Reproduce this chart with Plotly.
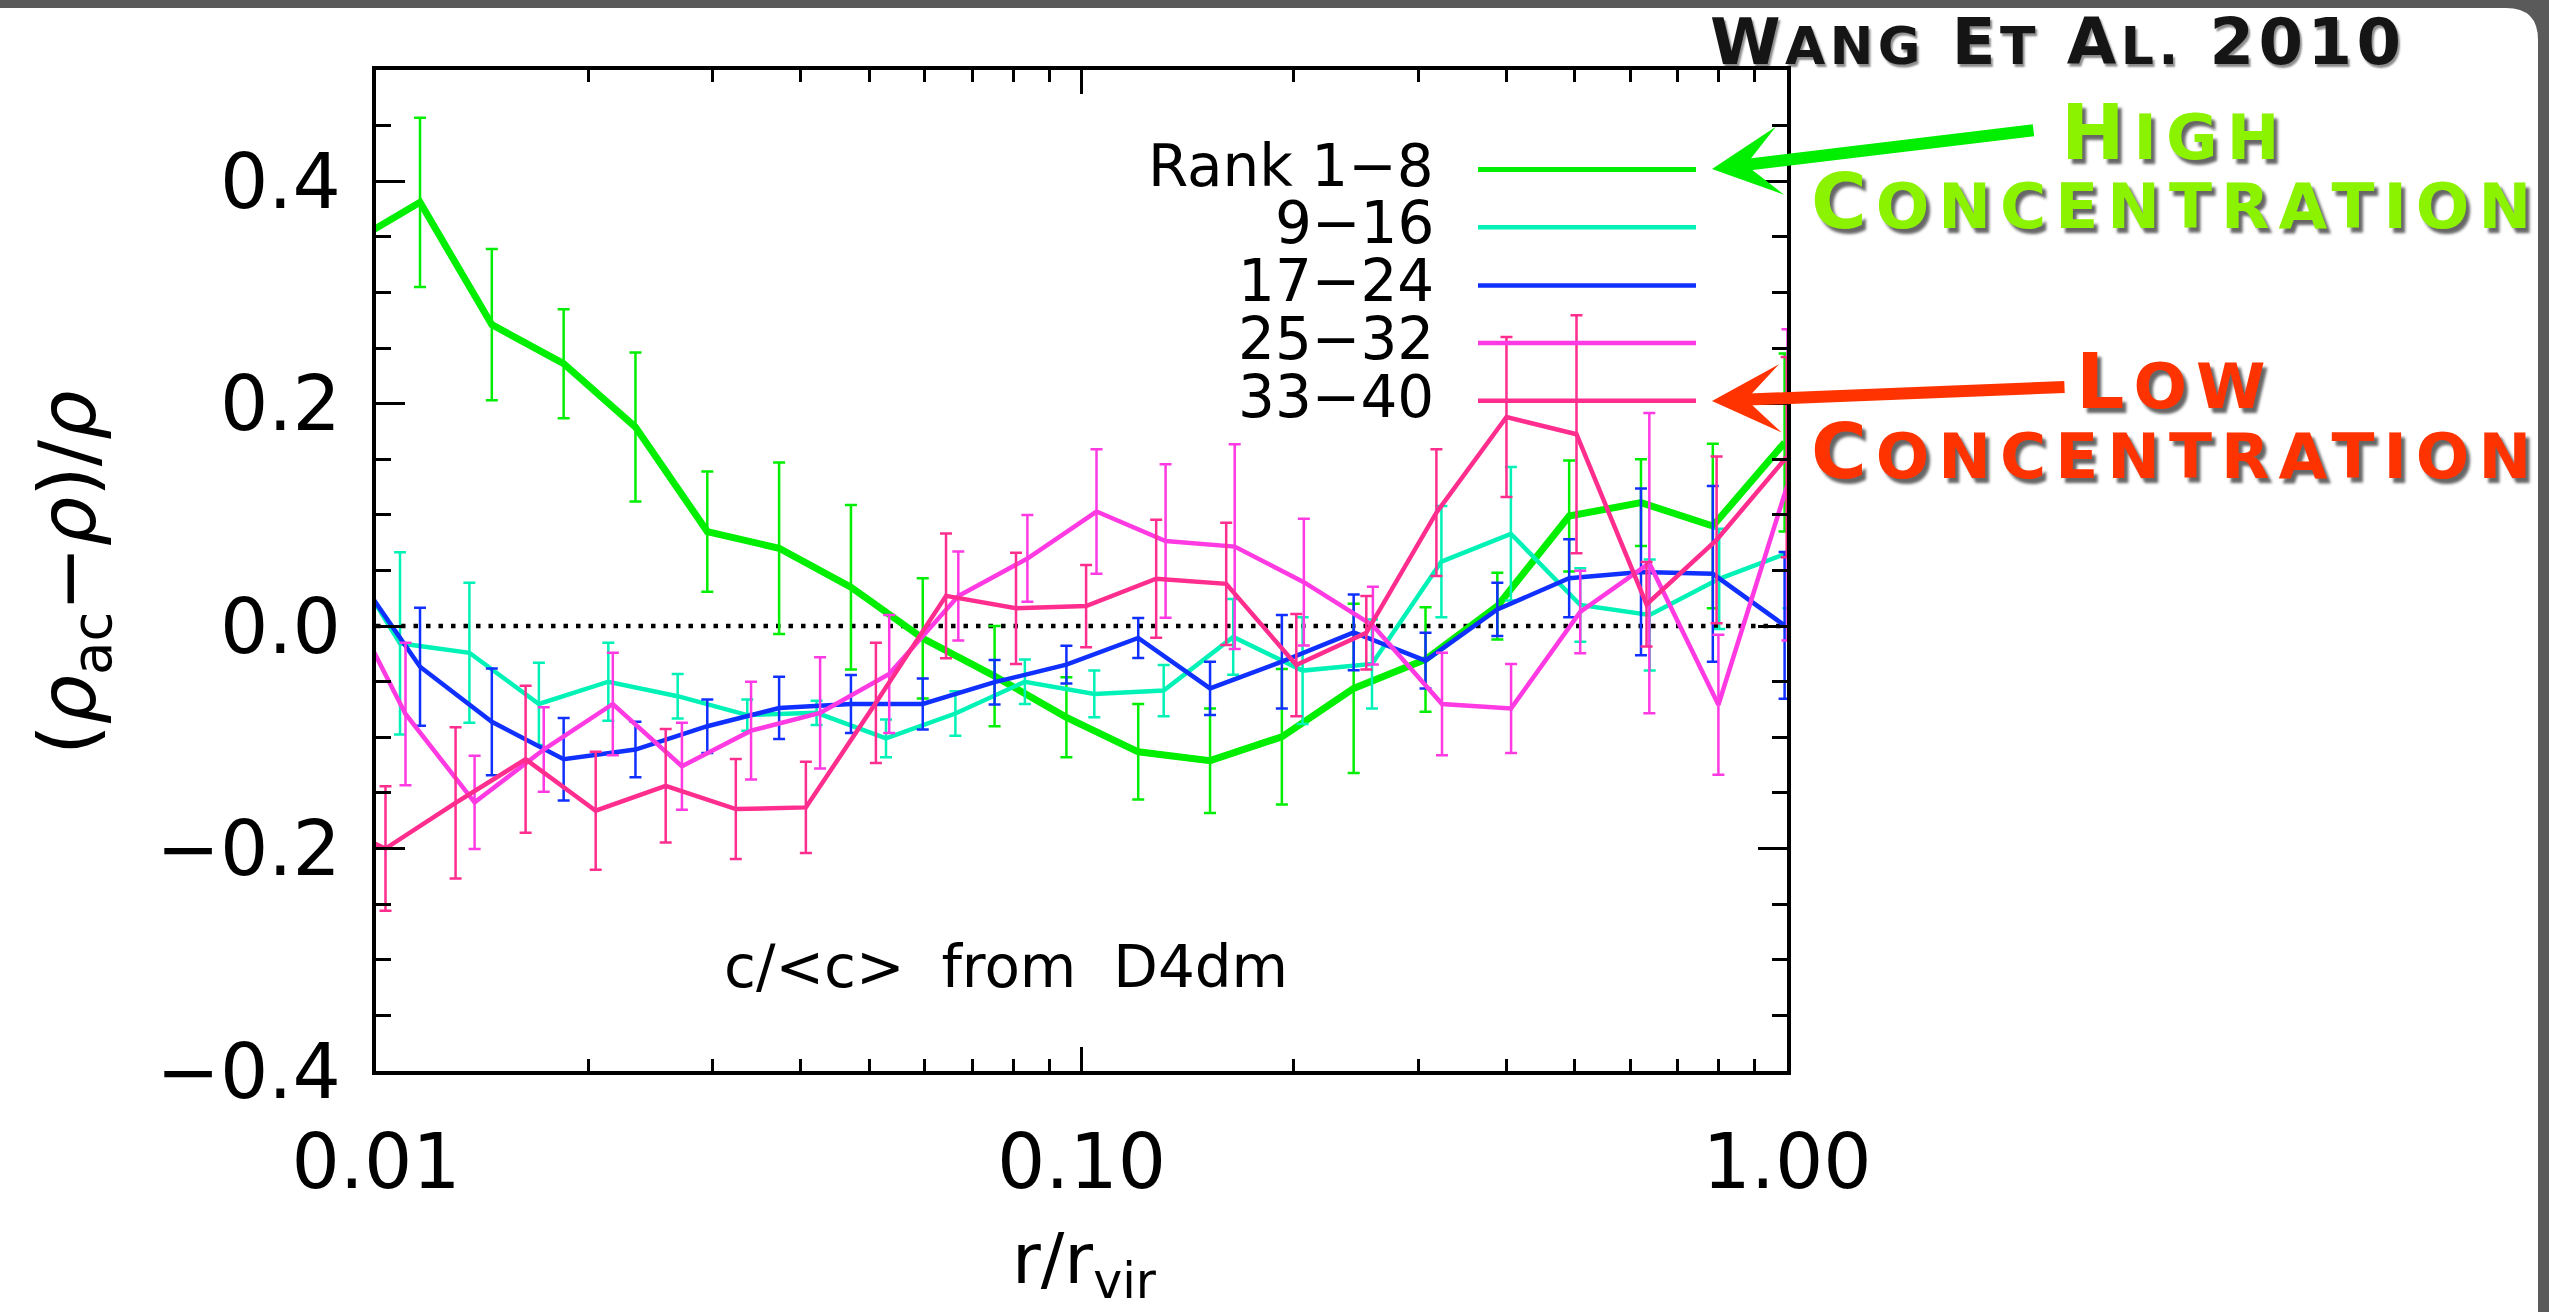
import plotly.graph_objects as go

# ---------------- data ----------------
r_rank1_8 = [0.009134, 0.011545, 0.014594, 0.018450, 0.023323, 0.029484, 0.037273,
             0.047119, 0.059566, 0.075302, 0.095194, 0.12034, 0.15213, 0.19231,
             0.24311, 0.30734, 0.38853, 0.49117, 0.62090, 0.78496, 0.99220]
dev_rank1_8 = [0.343, 0.381, 0.271, 0.236, 0.179, 0.085, 0.070, 0.035, -0.011, -0.045,
               -0.082, -0.113, -0.121, -0.0995, -0.056, -0.030, 0.018, 0.099, 0.111, 0.090, 0.165]
err_rank1_8 = [0, 0.076, 0.068, 0.049, 0.067, 0.054, 0.077, 0.074, 0.054, 0.045, 0.036,
               0.043, 0.047, 0.061, 0.076, 0.047, 0.030, 0.050, 0.039, 0.074, 0.080]

r_rank9_16 = [0.008620, 0.010815, 0.013564, 0.017017, 0.021345, 0.026768, 0.033592,
              0.042123, 0.052833, 0.066262, 0.083128, 0.10427, 0.13077, 0.16407,
              0.20578, 0.25808, 0.32369, 0.40608, 0.50935, 0.63888, 0.80146, 1.0052]
dev_rank9_16 = [0.086, -0.0155, -0.024, -0.070, -0.050, -0.063, -0.080, -0.078, -0.101,
                -0.0786, -0.050, -0.061, -0.058, -0.0097, -0.040, -0.034, 0.058, 0.083,
                0.019, 0.010, 0.0425, 0.066]
err_rank9_16 = [0, 0.082, 0.063, 0.037, 0.035, 0.020, 0.014, 0.011, 0.017, 0.020, 0.020,
                0.021, 0.023, 0.034, 0.048, 0.040, 0.050, 0.060, 0.033, 0.050, 0.045, 0.050]

r_rank17_24 = [0.009134, 0.011545, 0.014594, 0.018450, 0.023323, 0.029484, 0.037273,
               0.047119, 0.059566, 0.075302, 0.095194, 0.12034, 0.15213, 0.19231,
               0.24311, 0.30734, 0.38853, 0.49117, 0.62090, 0.78496, 0.99220]
dev_rank17_24 = [0.057, -0.0365, -0.086, -0.1197, -0.111, -0.090, -0.0736, -0.070, -0.070,
                 -0.0504, -0.0347, -0.0107, -0.056, -0.032, -0.0056, -0.031, 0.015, 0.043,
                 0.0487, 0.047, 0.0006]
err_rank17_24 = [0, 0.053, 0.048, 0.037, 0.025, 0.024, 0.028, 0.026, 0.023, 0.020, 0.017,
                 0.018, 0.024, 0.042, 0.034, 0.025, 0.024, 0.035, 0.075, 0.079, 0.066]

r_rank25_32 = [0.008789, 0.011011, 0.013796, 0.017288, 0.021661, 0.027141, 0.034011,
               0.042608, 0.053388, 0.066893, 0.08381, 0.10502, 0.13158, 0.16488,
               0.20661, 0.25884, 0.32433, 0.40635, 0.50920, 0.63806, 0.79942, 1.0016]
dev_rank25_32 = [0.043, -0.079, -0.1585, -0.111, -0.070, -0.126, -0.094, -0.078, -0.043,
                 0.027, 0.0608, 0.103, 0.0765, 0.0715, 0.0395, 0.0005, -0.070, -0.074,
                 0.0127, 0.0566, -0.0707, 0.127]
err_rank25_32 = [0, 0.064, 0.042, 0.038, 0.046, 0.039, 0.044, 0.050, 0.053, 0.040, 0.039,
                 0.056, 0.069, 0.092, 0.057, 0.035, 0.046, 0.040, 0.037, 0.135, 0.063, 0.140]

r_rank33_40 = [0.008207, 0.010315, 0.012966, 0.016296, 0.020484, 0.025741, 0.032359,
               0.040674, 0.051119, 0.064266, 0.080753, 0.10151, 0.12760, 0.16036,
               0.20159, 0.25333, 0.31845, 0.40030, 0.50307, 0.63227, 0.79471, 0.99901]
dev_rank33_40 = [-0.172, -0.200, -0.159, -0.1197, -0.166, -0.1436, -0.1645, -0.163, -0.069,
                 0.0272, 0.016, 0.018, 0.0426, 0.038, -0.035, -0.006, 0.102, 0.188, 0.1725,
                 0.0196, 0.0775, 0.152]
err_rank33_40 = [0, 0.056, 0.068, 0.066, 0.053, 0.051, 0.045, 0.041, 0.054, 0.056, 0.050,
                 0.037, 0.053, 0.055, 0.046, 0.033, 0.057, 0.072, 0.107, 0.038, 0.075, 0.090]

series_labels = ["Rank 1\u22128", "9\u221216", "17\u221224", "25\u221232", "33\u221240"]

x_tick_vals = [0.01, 0.1, 1.0]
x_tick_text = ["0.01", "0.10", "1.00"]
y_tick_vals = [-0.4, -0.2, 0.0, 0.2, 0.4]
y_tick_text = ["\u22120.4", "\u22120.2", "0.0", "0.2", "0.4"]

# ---------------- geometry / style ----------------
W, H = 2549, 1312
ML, MR, MT, MB = 376, 762, 70, 241
PW = W - ML - MR
PH = H - MT - MB


def px(x):
    return (x - ML) / PW


def py(y):
    return (H - MB - y) / PH


FONT = "DejaVu Sans"
colors = ["#00EE00", "#00F2B6", "#1030FF", "#FF3AE2", "#FF2D8E"]
line_widths = [7, 4.5, 4.5, 4.5, 4.5]

fig = go.Figure()
all_r = [r_rank1_8, r_rank9_16, r_rank17_24, r_rank25_32, r_rank33_40]
all_d = [dev_rank1_8, dev_rank9_16, dev_rank17_24, dev_rank25_32, dev_rank33_40]
all_e = [err_rank1_8, err_rank9_16, err_rank17_24, err_rank25_32, err_rank33_40]
for r, d, e, c, w, name in zip(all_r, all_d, all_e, colors, line_widths, series_labels):
    fig.add_trace(go.Scatter(
        x=r, y=d, mode="lines", name=name,
        line=dict(color=c, width=w),
        error_y=dict(type="data", array=e, visible=True, color=c, thickness=2.5, width=6),
        hoverinfo="skip",
    ))

x_minor = [m * 10 ** p for p in (-2, -1) for m in range(2, 10)]
y_minor = [round(-0.4 + 0.05 * i, 2) for i in range(19)]

fig.update_xaxes(
    type="log", range=[-2, 0], tickmode="array", tickvals=x_tick_vals, ticktext=x_tick_text,
    ticks="inside", ticklen=24, tickwidth=3, tickcolor="black",
    showline=True, linewidth=4, linecolor="black", mirror="allticks",
    showgrid=False, zeroline=False,
    tickfont=dict(family=FONT, size=76, color="black"), ticklabelstandoff=22,
    minor=dict(tickvals=x_minor, ticks="inside", ticklen=12, tickwidth=3,
               tickcolor="black", showgrid=False),
)
fig.update_yaxes(
    range=[-0.4, 0.5], tickmode="array", tickvals=y_tick_vals, ticktext=y_tick_text,
    ticks="inside", ticklen=29, tickwidth=3, tickcolor="black",
    showline=True, linewidth=4, linecolor="black", mirror="allticks",
    showgrid=False, zeroline=False,
    tickfont=dict(family=FONT, size=76, color="black"), ticklabelstandoff=16,
    minor=dict(tickvals=y_minor, ticks="inside", ticklen=15, tickwidth=3,
               tickcolor="black", showgrid=False),
)

shapes = []
# slide panel (white, rounded top-right corner) over dark frame
shapes.append(dict(
    type="path", xref="paper", yref="paper", layer="below",
    path=(f"M {px(0)},{py(H + 5)} L {px(0)},{py(8)} L {px(2506)},{py(8)} "
          f"Q {px(2538)},{py(8)} {px(2538)},{py(40)} L {px(2538)},{py(H + 5)} Z"),
    fillcolor="white", line=dict(width=0),
))
# dotted zero line
shapes.append(dict(type="line", xref="paper", yref="y", x0=0, x1=1, y0=0, y1=0,
                   layer="between", line=dict(color="black", width=4.5, dash="4.5px,8px")))
# legend keys
legend_y = [169.5, 227.3, 285.4, 343.1, 400.8]
for yy, c, w in zip(legend_y, colors, [5, 4.5, 4.5, 4.5, 4.5]):
    shapes.append(dict(type="line", xref="paper", yref="paper",
                       x0=px(1478), x1=px(1696), y0=py(yy), y1=py(yy),
                       line=dict(color=c, width=w)))

ann = []
for yy, lab in zip(legend_y, series_labels):
    ann.append(dict(xref="paper", yref="paper", x=px(1436), y=py(yy - 4), text=lab,
                    showarrow=False, xanchor="right", yanchor="middle",
                    font=dict(family=FONT, size=58, color="black")))

ann.append(dict(xref="paper", yref="paper", x=px(722), y=py(967), xanchor="left", yanchor="middle",
                text="c/&lt;c&gt;\u00a0 from\u00a0 D4dm", showarrow=False,
                font=dict(family=FONT, size=58, color="black")))

# axis titles
ann.append(dict(xref="paper", yref="paper", x=px(1084), y=py(1264), xanchor="center", yanchor="middle",
                text="r/r<sub>vir</sub>", showarrow=False,
                font=dict(family=FONT, size=70, color="black")))
ann.append(dict(xref="paper", yref="paper", x=px(73), y=py(573), xanchor="center", yanchor="middle",
                text="(<i>\u03c1</i><sub>ac</sub>\u2212<i>\u03c1</i>)/<i>\u03c1</i>", textangle=-90,
                showarrow=False, font=dict(family=FONT, size=78, color="black")))


def small_caps(parts, big, small, ls):
    out = []
    for txt, is_big in parts:
        size = big if is_big else small
        out.append(f"<span style='font-size:{size}px;letter-spacing:{ls}px'>{txt}</span>")
    return "".join(out)


shadow = "4px 5px 3px rgba(0,0,0,0.6)"
ann.append(dict(xref="paper", yref="paper", x=px(2058), y=py(42), xanchor="center", yanchor="middle",
                showarrow=False,
                text=small_caps([("W", True), ("ANG", False), ("\u00a0E", True), ("T", False),
                                 ("\u00a0A", True), ("L.", False), ("\u00a02010", True)], 64, 52, 4.5),
                font=dict(family=FONT, size=64, color="#151515", weight="bold",
                          shadow="2px 3px 2px rgba(0,0,0,0.45)")))

GREEN_TXT = "#8BF200"
RED_TXT = "#FF3300"
for word, cx, base, col in [("HIGH", 2175, 158, GREEN_TXT), ("CONCENTRATION", 2175, 228, GREEN_TXT),
                            ("LOW", 2175, 407, RED_TXT), ("CONCENTRATION", 2175, 477, RED_TXT)]:
    ann.append(dict(xref="paper", yref="paper", x=px(cx), y=py(base - 26), xanchor="center",
                    yanchor="middle", showarrow=False,
                    text=small_caps([(word[0], True), (word[1:], False)], 76, 63, 9),
                    font=dict(family=FONT, size=76, color=col, weight="bold", shadow=shadow)))

# arrows
ann.append(dict(xref="paper", yref="paper", x=px(1712), y=py(169), text="", showarrow=True,
                axref="pixel", ayref="pixel", ax=323, ay=-39, arrowhead=3, arrowsize=0.95,
                arrowwidth=12, arrowcolor="#00EE00", standoff=0))
ann.append(dict(xref="paper", yref="paper", x=px(1712), y=py(401), text="", showarrow=True,
                axref="pixel", ayref="pixel", ax=354, ay=-14, arrowhead=3, arrowsize=0.95,
                arrowwidth=12, arrowcolor="#FF3300", standoff=0))

fig.update_layout(
    width=W, height=H, margin=dict(l=ML, r=MR, t=MT, b=MB, pad=0),
    paper_bgcolor="#5a5a5a", plot_bgcolor="white", showlegend=False,
    shapes=shapes, annotations=ann,
)

fig.write_html("out.html", config={"displayModeBar": False},
               post_script="document.body.style.margin='0';document.body.style.overflow='hidden';")
